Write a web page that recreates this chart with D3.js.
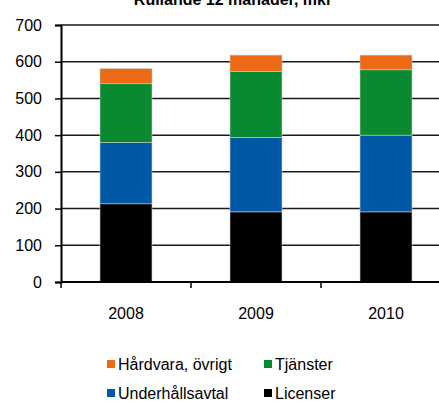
<!DOCTYPE html>
<html lang="sv">
<head>
<meta charset="UTF-8">
<title>Omsättning</title>
<script src="https://cdn.jsdelivr.net/npm/d3@7"></script>
<style>
  body { margin: 0; background: #fff; }
  text { font-family: "Liberation Sans", Arial, sans-serif; fill: #000; }
</style>
</head>
<body>
<svg id="chart" width="439" height="401"></svg>
<script>
// data (mkr)
const years = ["2008", "2009", "2010"];
const licenser = [213, 191, 191];
const underhall = [167, 203, 209];
const tjanster = [160, 179, 178];
const hardvara = [41, 45, 40];
const seriesNames = ["Licenser", "Underhållsavtal", "Tjänster", "Hårdvara, övrigt"];
const seriesColors = ["#000000", "#0058a6", "#0a8a30", "#ec6a16"];
const yTicks = [0, 100, 200, 300, 400, 500, 600, 700];

const rows = years.map((y, i) => ({
  year: y,
  "Licenser": licenser[i],
  "Underhållsavtal": underhall[i],
  "Tjänster": tjanster[i],
  "Hårdvara, övrigt": hardvara[i]
}));

const svg = d3.select("#chart");
const mLeft = 61, mTop = 25, mBottom = 282, mRight = 451;

const x = d3.scaleBand().domain(years).range([mLeft, mRight]).paddingInner(0.6).paddingOuter(0.3);
const y = d3.scaleLinear().domain([0, 700]).range([mBottom, mTop]);

// title, clipped at the top like in the original
svg.append("text").attr("x", 233).attr("y", 4.5)
  .attr("text-anchor", "middle").style("font-size", "16px").style("font-weight", "bold")
  .text("Rullande 12 månader, mkr");

// grid lines
svg.append("g").selectAll("line").data(yTicks.filter(d => d > 0)).join("line")
  .attr("x1", mLeft).attr("x2", mRight)
  .attr("y1", d => y(d)).attr("y2", d => y(d))
  .attr("stroke", "#1a1a1a").attr("stroke-width", 1.5);

// bars
const stack = d3.stack().keys(seriesNames)(rows);
const color = d3.scaleOrdinal().domain(seriesNames).range(seriesColors);
svg.append("g").selectAll("g").data(stack).join("g")
  .attr("fill", d => color(d.key))
  .selectAll("rect").data(d => d).join("rect")
  .attr("x", d => x(d.data.year))
  .attr("width", x.bandwidth())
  .attr("y", d => y(d[1]))
  .attr("height", d => y(d[0]) - y(d[1]))
  .attr("stroke", "#c8c8c8").attr("stroke-width", 0.6);

// y axis
const yAxis = svg.append("g").attr("transform", `translate(${mLeft},0)`)
  .call(d3.axisLeft(y).tickValues(yTicks).tickSize(6).tickPadding(13));
yAxis.select(".domain").attr("stroke", "#000").attr("stroke-width", 2);
yAxis.selectAll(".tick line").attr("stroke", "#000").attr("stroke-width", 1.5);
yAxis.selectAll("text").style("font-size", "16px");

// x axis
const xBounds = d3.scaleLinear().domain([0, 3]).range([mLeft, mRight]);
const xAxis = svg.append("g").attr("transform", `translate(0,${mBottom})`);
xAxis.append("line").attr("x1", mLeft).attr("x2", mRight).attr("stroke", "#000").attr("stroke-width", 2);
xAxis.selectAll(".tk").data([0, 1, 2, 3]).join("line").attr("class", "tk")
  .attr("x1", d => xBounds(d)).attr("x2", d => xBounds(d))
  .attr("y1", 0).attr("y2", 6).attr("stroke", "#000").attr("stroke-width", 1.5);
xAxis.selectAll("text").data(years).join("text")
  .attr("x", d => x(d) + x.bandwidth() / 2).attr("y", 37)
  .attr("text-anchor", "middle").style("font-size", "16px").text(d => d);

// legend
const legendItems = [
  { name: "Hårdvara, övrigt", col: 0, row: 0 },
  { name: "Tjänster", col: 1, row: 0 },
  { name: "Underhållsavtal", col: 0, row: 1 },
  { name: "Licenser", col: 1, row: 1 }
];
const lg = svg.append("g").selectAll("g").data(legendItems).join("g")
  .attr("transform", d => `translate(${107 + d.col * 157},${364 + d.row * 29})`);
lg.append("rect").attr("x", 0).attr("y", -4).attr("width", 8).attr("height", 8)
  .attr("fill", d => color(d.name));
lg.append("text").attr("x", 11).attr("y", 6).style("font-size", "16px").text(d => d.name);
</script>
</body>
</html>
